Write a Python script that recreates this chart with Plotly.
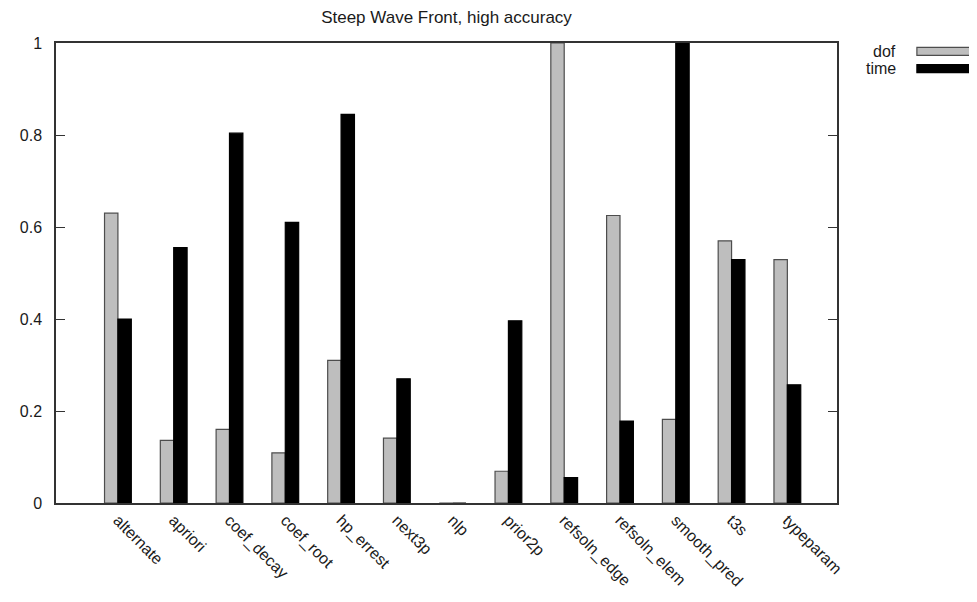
import plotly.graph_objects as go

categories = ["alternate", "apriori", "coef_decay", "coef_root", "hp_errest", "next3p",
              "nlp", "prior2p", "refsoln_edge", "refsoln_elem", "smooth_pred", "t3s", "typeparam"]
dof = [0.630, 0.136, 0.160, 0.109, 0.310, 0.141, 0.0, 0.069, 1.0, 0.625, 0.182, 0.570, 0.529]
time = [0.400, 0.555, 0.804, 0.610, 0.845, 0.270, 0.0, 0.396, 0.055, 0.178, 1.0, 0.529, 0.257]
y_ticks = [0, 0.2, 0.4, 0.6, 0.8, 1]
y_tick_labels = ["0", "0.2", "0.4", "0.6", "0.8", "1"]
title_text = "Steep Wave Front, high accuracy"

# the page body has an 8px margin, so work in figure coordinates shifted by 8px
OFF = 8
W, H = 977 - OFF, 602 - OFF
L, R, T, B = 51.7 - OFF, 836.7 - OFF, 43 - OFF, 510 - OFF
FONT = "Liberation Sans, Arial, Helvetica, sans-serif"
AXC = "#333333"

fig = go.Figure()
fig.add_trace(go.Bar(x=categories, y=dof, name="dof",
                     marker=dict(color="#bebebe", line=dict(color="#4d4d4d", width=1.2))))
fig.add_trace(go.Bar(x=categories, y=time, name="time",
                     marker=dict(color="#000000", line=dict(color="#000000", width=1.2))))

fig.update_layout(
    width=W, height=H, autosize=False,
    margin=dict(l=L, r=W - R, t=T, b=H - B, pad=0),
    paper_bgcolor="white", plot_bgcolor="white",
    barmode="group", bargap=0.52, bargroupgap=0.0,
    showlegend=False,
    font=dict(family=FONT, size=15, color="#1a1a1a"),
    title=dict(text=title_text, x=0.5, xref="paper", xanchor="center",
               y=1 - (17 - OFF) / H, yref="container", yanchor="middle",
               font=dict(family=FONT, size=17, color="#1a1a1a")),
    xaxis=dict(type="category", range=[-1.11, 12.89], showgrid=False, zeroline=False,
               showline=True, linecolor=AXC, linewidth=1.5, mirror=True,
               ticks="", tickangle=45, tickfont=dict(size=16)),
    yaxis=dict(range=[0, 1], tickvals=y_ticks, ticktext=y_tick_labels, showgrid=False,
               zeroline=False, showline=True, linecolor=AXC, linewidth=1.5,
               mirror="ticks", ticks="inside", ticklen=9, tickcolor=AXC, tickwidth=1,
               tickfont=dict(size=16), ticklabelstandoff=9),
)

# legend drawn as gnuplot-style key: text right-aligned, swatch on the right
legend_items = [("dof", "#bebebe", "#4d4d4d", 51.5), ("time", "#000000", "#000000", 69)]
for name, fill, edge, yc in legend_items:
    yc -= OFF
    fig.add_annotation(text=name, xref="paper", yref="paper",
                       x=(898 - OFF - L) / (R - L), y=(B - yc) / (B - T),
                       xanchor="right", yanchor="middle", showarrow=False,
                       font=dict(family=FONT, size=16, color="#1a1a1a"))
    fig.add_shape(type="rect", xref="paper", yref="paper",
                  x0=(917 - OFF - L) / (R - L), x1=(974 - OFF - L) / (R - L),
                  y0=(B - (yc - 4)) / (B - T), y1=(B - (yc + 4)) / (B - T),
                  fillcolor=fill, line=dict(color=edge, width=1.2))

fig.write_html("out.html")
